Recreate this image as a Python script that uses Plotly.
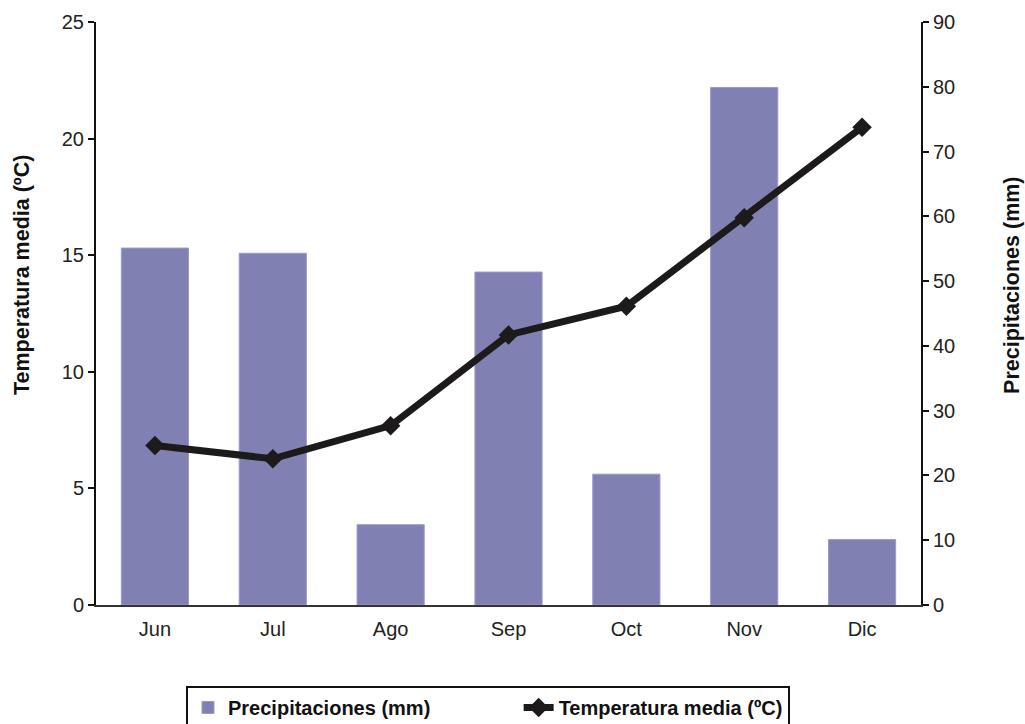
import plotly.graph_objects as go

# Monthly climate data
meses = ["Jun", "Jul", "Ago", "Sep", "Oct", "Nov", "Dic"]
precipitaciones_mm = [55.1, 54.3, 12.4, 51.4, 20.2, 79.9, 10.1]
temperatura_media_c = [6.84, 6.27, 7.69, 11.58, 12.81, 16.61, 20.49]

temp_ticks = [0, 5, 10, 15, 20, 25]
prec_ticks = [0, 10, 20, 30, 40, 50, 60, 70, 80, 90]

FONT = "Liberation Sans, Arial, sans-serif"
BAR_COLOR = "#8080b3"
LINE_COLOR = "#1c1a1a"
TITLE_FONT = dict(family=FONT, size=21.5, color="#111111", weight="bold")
NBSP = "\u00a0"

fig = go.Figure()

fig.add_trace(go.Bar(
    x=meses,
    y=precipitaciones_mm,
    name="Precipitaciones (mm)" + NBSP * 15,
    marker=dict(color=BAR_COLOR, line=dict(color="#9a9acc", width=1)),
    width=0.57,
    yaxis="y",
))

fig.add_trace(go.Scatter(
    x=meses,
    y=temperatura_media_c,
    name="Temperatura media (ºC)",
    mode="lines+markers",
    line=dict(color=LINE_COLOR, width=7),
    marker=dict(symbol="diamond", size=15, color=LINE_COLOR),
    yaxis="y2",
))

# Axis titles placed beside the plot area
fig.add_annotation(
    text="Temperatura media (ºC)", textangle=-90,
    xref="paper", yref="paper", x=-0.0897, y=0.566,
    xanchor="center", yanchor="middle", showarrow=False, font=TITLE_FONT,
)
fig.add_annotation(
    text="Precipitaciones (mm)", textangle=-90,
    xref="paper", yref="paper", x=1.1103, y=0.549,
    xanchor="center", yanchor="middle", showarrow=False, font=TITLE_FONT,
)

axis_common = dict(
    showline=True,
    linecolor="#111111",
    linewidth=2,
    ticks="outside",
    ticklen=6,
    tickwidth=2,
    tickcolor="#111111",
    showgrid=False,
    zeroline=False,
    tickfont=dict(size=20, color="#222222"),
)

fig.update_layout(
    width=1025,
    height=724,
    margin=dict(l=96, r=104, t=22, b=119, autoexpand=False),
    paper_bgcolor="white",
    plot_bgcolor="white",
    font=dict(family=FONT, size=20, color="#222222"),
    showlegend=True,
    legend=dict(
        orientation="h",
        x=(186 - 96) / 825,
        xanchor="left",
        y=-0.1389,
        yanchor="top",
        bordercolor="#111111",
        borderwidth=2,
        font=dict(family=FONT, size=20, color="#111111", weight="bold"),
        tracegroupgap=0,
    ),
    xaxis=dict(
        showline=True,
        linecolor="#333333",
        linewidth=2,
        ticks="",
        showgrid=False,
        tickfont=dict(size=20, color="#222222"),
        ticklabelstandoff=5,
    ),
    yaxis=dict(side="right", range=[0, 90], tickvals=prec_ticks, **axis_common),
    yaxis2=dict(side="left", overlaying="y", range=[0, 25], tickvals=temp_ticks, **axis_common),
)

fig.write_html("out.html")
